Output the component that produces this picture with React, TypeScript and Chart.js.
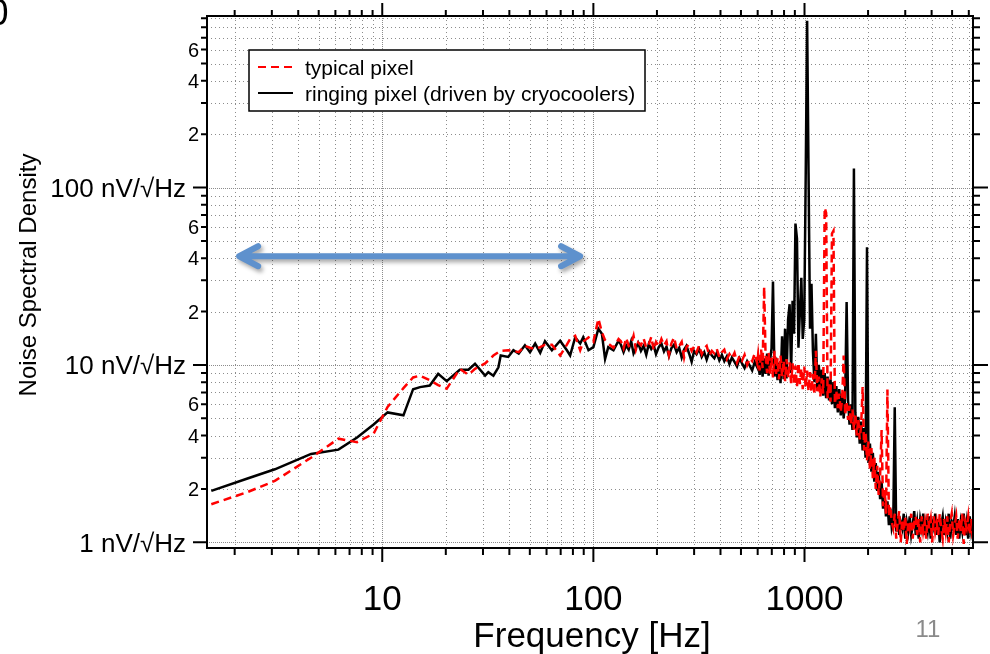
import { useEffect, useRef } from "react";
import { Chart, registerables } from "chart.js";

Chart.register(...registerables);

// ---------- DATA ----------
// Frequency grid [Hz], split in segments
const freqLowHz = [
  1.55, 2.3, 3.1, 4.6, 6.2, 7.6, 9.1, 10.6, 12.6, 14.0, 15.1, 16.8, 18.4, 20.2, 23.3,
  25.6, 27.5, 30.7, 31.8, 33.6, 35.5, 36.4, 39.5, 41.8, 44.3, 47.4, 50.1, 53, 56, 59,
  63.6, 69.6, 74.9, 77.6, 82, 86.6, 89.5, 94.8, 100, 105.6, 109.7, 113.6, 117.6, 124.5, 131.6,
];
const freqMidHz = [
  135, 139, 143, 147, 151, 155, 159, 163, 168, 173, 178, 183, 188, 193, 198, 204, 210, 216,
  222, 228, 234, 241, 248, 255, 262, 269, 276, 284, 292, 300, 308, 317, 326, 335, 344, 354,
  364, 374, 384, 395, 406, 417, 429, 441, 453, 466, 479, 492, 506, 520, 535, 550, 565, 581, 597,
];
const freqHighHz = [
  603, 613, 623, 633, 644, 654, 665, 676, 687, 698,
  709, 721, 733, 745, 757, 770, 783, 796, 809, 822,
  836, 850, 864, 878, 892, 906, 921, 936, 951, 966,
  981, 997, 1013, 1029, 1045, 1062, 1079, 1096, 1114, 1132,
  1150, 1169, 1188, 1207, 1226, 1246, 1266, 1286, 1307, 1328,
  1349, 1371, 1393, 1415, 1438, 1461, 1485, 1509, 1533, 1558,
  1583, 1608, 1634, 1660, 1687, 1714, 1741, 1769, 1797, 1826,
  1855, 1885, 1915, 1946, 1977, 2009, 2041, 2074, 2107, 2141,
  2175, 2210, 2245, 2281, 2318, 2355, 2393, 2431, 2470, 2510,
  2550, 2591,
];
const freqFloorHz = [
  2632, 2675, 2719, 2764, 2810, 2856, 2903, 2951, 3000, 3049,
  3099, 3150, 3202, 3255, 3308, 3363, 3418, 3475, 3532, 3590,
  3649, 3709, 3770, 3832, 3896, 3960, 4025, 4092, 4159, 4228,
  4298, 4369, 4441, 4514, 4588, 4664, 4741, 4819, 4899, 4980,
  5062, 5145, 5230, 5316, 5404, 5493, 5584, 5676, 5770, 5865,
  5962, 6060, 6160, 6260,
];

// typical pixel [nV/√Hz]
const typicalLow = [
  1.64, 1.92, 2.22, 3.0, 3.84, 3.67, 4.1, 5.8, 7.4, 8.5, 8.7, 8.2, 7.7, 7.35, 9.5,
  8.8, 9.5, 10.2, 10.6, 11.3, 11.8, 12.0, 12.1, 12.0, 11.8, 12.8, 12.5, 12.3, 12.6, 13.0,
  13.0, 11.3, 13.0, 14.0, 14.6, 12.1, 13.5, 14.3, 13.5, 18.2, 15.3, 13.8, 13.2, 12.5, 14.0,
];
const typicalMid = [
  13.6, 12.4, 14.2, 12.8, 13.1, 14.6, 12.2, 13.4, 12.9, 14.1,
  12.5, 13.0, 14.4, 12.1, 13.5, 12.7, 14.0, 12.9, 13.6, 11.4,
  13.2, 14.3, 12.3, 12.8, 13.5, 11.0, 12.6, 13.1, 12.0, 12.7,
  11.8, 12.9, 11.5, 12.4, 12.8, 11.3, 12.0, 11.6, 12.3, 11.1,
  11.8, 12.2, 10.8, 11.5, 10.9, 11.7, 10.3, 11.2, 10.6, 11.4,
  10.0, 10.9, 10.5, 11.6, 10.2,
];
const typicalHigh = [
  11.4, 9.3, 12.2, 9.6, 27.6, 11.2, 9.0, 11.8, 8.8, 11.0,
  8.5, 12.0, 8.9, 10.9, 8.3, 11.3, 8.6, 10.6, 8.1, 10.8,
  8.4, 10.4, 7.9, 10.2, 7.7, 9.9, 7.5, 10.3, 7.8, 9.6,
  7.3, 9.8, 7.4, 9.3, 7.1, 9.1, 7.0, 8.9, 6.8, 12.0,
  7.1, 8.6, 6.6, 8.4, 6.9, 77, 72, 6.5, 8.0, 6.2,
  55, 57, 6.0, 7.2, 5.7, 6.9, 5.4, 6.6, 11.3, 5.2,
  6.2, 4.9, 5.9, 4.6, 5.6, 4.3, 5.3, 4.0, 5.0, 3.8,
  4.6, 7.5, 3.3, 4.2, 2.9, 3.7, 2.6, 3.4, 2.3, 3.0,
  2.0, 2.7, 1.85, 2.4, 4.3, 1.6, 2.0, 1.45, 7.26, 1.4,
  1.6, 1.3,
];
const typicalFloor = [
  1.2, 1.45, 1.05, 1.3, 1.5, 1.0, 1.35, 1.15, 1.4, 0.98,
  1.3, 1.2, 1.45, 1.05, 1.3, 1.4, 1.1, 1.35, 1.0, 1.4,
  1.15, 1.3, 1.05, 1.45, 1.2, 1.35, 1.0, 1.4, 1.15, 1.3,
  1.1, 1.45, 1.2, 1.05, 1.35, 1.15, 1.4, 1.0, 1.3, 1.45,
  1.1, 1.25, 1.4, 1.05, 1.35, 1.15, 1.45, 0.98, 1.3, 1.2,
  1.4, 1.1, 1.35, 1.05,
];

// ringing pixel (driven by cryocoolers) [nV/√Hz]
const ringingLow = [
  1.95, 2.29, 2.58, 3.15, 3.33, 3.9, 4.62, 5.4, 5.2, 7.3, 7.5, 7.65, 8.9, 8.1, 9.4,
  9.4, 10.15, 8.7, 9.1, 8.7, 9.7, 11.3, 11.1, 12.1, 11.6, 12.9, 11.8, 13.2, 11.7, 13.6,
  12.1, 13.7, 12.1, 11.3, 14.3, 13.2, 14.3, 12.1, 12.6, 16.0, 15.0, 10.8, 12.6, 12.1, 13.7,
];
const ringingMid = [
  13.0, 11.8, 12.9, 12.2, 13.6, 11.6, 12.4, 13.3, 12.0, 12.8,
  11.4, 13.1, 12.3, 12.9, 11.5, 12.6, 13.2, 11.9, 12.7, 11.2,
  12.4, 13.0, 11.8, 12.5, 11.0, 12.2, 12.8, 11.6, 10.4, 12.0,
  11.5, 12.3, 11.1, 11.8, 10.7, 11.9, 11.3, 10.9, 11.7, 10.6,
  11.4, 10.5, 11.2, 10.1, 11.0, 10.4, 9.8, 10.9, 10.2, 9.6,
  10.5, 9.9, 9.3, 10.4, 9.7,
];
const ringingHigh = [
  10.8, 8.8, 11.4, 8.6, 10.9, 8.9, 11.6, 8.7, 10.6, 12.4,
  29.5, 8.6, 11.0, 8.2, 10.3, 7.9, 14.5, 8.3, 16.0, 8.4,
  18.0, 22.0, 9.0, 23.0, 15.0, 62.7, 51.5, 12.5, 20.0, 31.0,
  14.0, 18.0, 114, 871, 121, 16.0, 28.7, 12.0, 8.0, 15.0,
  7.4, 10.0, 7.0, 9.4, 6.7, 9.0, 6.5, 8.6, 6.3, 8.3,
  6.0, 8.0, 5.7, 7.6, 5.4, 7.3, 5.2, 6.9, 5.0, 6.6,
  22.6, 6.3, 4.6, 6.0, 4.3, 128, 5.4, 3.9, 5.1, 3.6,
  4.8, 3.3, 4.4, 3.0, 46, 2.8, 3.6, 2.5, 3.2, 2.2,
  2.8, 1.95, 2.5, 1.75, 2.2, 1.55, 1.95, 1.4, 1.7, 1.25,
  1.55, 1.2,
];
const ringingFloor = [
  1.3, 5.78, 1.15, 1.4, 1.1, 1.3, 1.2, 1.45, 1.05, 1.3,
  1.15, 1.4, 1.1, 1.25, 1.5, 1.1, 1.3, 1.05, 1.35, 1.2,
  1.45, 1.1, 1.3, 1.15, 1.4, 1.05, 1.3, 1.2, 1.45, 1.1,
  1.35, 1.0, 1.25, 1.4, 1.1, 1.3, 1.15, 1.45, 1.05, 1.3,
  1.2, 1.4, 1.1, 1.35, 1.05, 1.3, 1.15, 1.45, 1.1, 1.3,
  1.05, 1.4, 1.15, 1.3,
];

// Ticks and labels
const decadeValues = [1, 10, 100, 1000];
const minorMultipliers = [2, 3, 4, 5, 6, 7, 8, 9];
const xMajorTicks = [10, 100, 1000];
const xMajorLabels = ["10", "100", "1000"];
const yMajorTicks = [1, 10, 100];
const yMajorLabels = ["1 nV/√Hz", "10 nV/√Hz", "100 nV/√Hz"];
const yMinorLabelTicks = [2, 4, 6, 20, 40, 60, 200, 400, 600];
const yMinorLabels = ["2", "4", "6", "2", "4", "6", "2", "4", "6"];

const seriesLabels = ["typical pixel", "ringing pixel (driven by cryocoolers)"];
const xTitle = "Frequency [Hz]";
const yTitle = "Noise Spectral Density";
const pageNumber = "11";

// Double arrow annotation (data coordinates)
const arrowSpanHz = [2.1, 86.5];
const arrowLevelNv = 41;

// Axis ranges
const xRange = [1.479, 6281];
const yRange = [0.929, 927];

// ---------- helpers ----------
const freqAll = [...freqLowHz, ...freqMidHz, ...freqHighHz, ...freqFloorHz];
const typicalAll = [...typicalLow, ...typicalMid, ...typicalHigh, ...typicalFloor];
const ringingAll = [...ringingLow, ...ringingMid, ...ringingHigh, ...ringingFloor];
const toPoints = (vals: number[]) => freqAll.map((f, i) => ({ x: f, y: vals[i] }));

function tickSet(min: number, max: number) {
  const out: { v: number; major: boolean }[] = [];
  for (const d of decadeValues) {
    if (d >= min && d <= max) out.push({ v: d, major: true });
    for (const m of minorMultipliers) {
      const v = m * d;
      if (v >= min && v <= max) out.push({ v, major: false });
    }
  }
  return out;
}

const FONT = '"Liberation Sans", Arial, Helvetica, sans-serif';

const axesPlugin = {
  id: "igorAxes",
  beforeDatasetsDraw(chart: any) {
    const { ctx, chartArea: a } = chart;
    const xs = chart.scales.x;
    const ys = chart.scales.y;
    ctx.save();
    ctx.strokeStyle = "rgb(140,140,140)";
    ctx.lineWidth = 1;
    for (const t of tickSet(xs.min, xs.max)) {
      const px = Math.round(xs.getPixelForValue(t.v)) + 0.5;
      ctx.setLineDash(t.major ? [1, 1] : [1, 3]);
      ctx.beginPath();
      ctx.moveTo(px, a.top);
      ctx.lineTo(px, a.bottom);
      ctx.stroke();
    }
    for (const t of tickSet(ys.min, ys.max)) {
      const py = Math.round(ys.getPixelForValue(t.v)) + 0.5;
      ctx.setLineDash(t.major ? [1, 1] : [1, 3]);
      ctx.beginPath();
      ctx.moveTo(a.left, py);
      ctx.lineTo(a.right, py);
      ctx.stroke();
    }
    ctx.restore();
  },
  afterDatasetsDraw(chart: any) {
    const { ctx, chartArea: a } = chart;
    const xs = chart.scales.x;
    const ys = chart.scales.y;
    ctx.save();
    ctx.setLineDash([]);

    // frame
    ctx.strokeStyle = "#000";
    ctx.lineWidth = 2;
    ctx.strokeRect(a.left, a.top, a.right - a.left, a.bottom - a.top);

    // ticks
    ctx.beginPath();
    for (const t of tickSet(xs.min, xs.max)) {
      const px = xs.getPixelForValue(t.v);
      ctx.moveTo(px, a.bottom);
      ctx.lineTo(px, a.bottom + (t.major ? 14 : 7));
      ctx.moveTo(px, a.top);
      ctx.lineTo(px, a.top - (t.major ? 13 : 6));
    }
    for (const t of tickSet(ys.min, ys.max)) {
      const py = ys.getPixelForValue(t.v);
      ctx.moveTo(a.left, py);
      ctx.lineTo(a.left - (t.major ? 14 : 6), py);
      ctx.moveTo(a.right, py);
      ctx.lineTo(a.right + (t.major ? 15 : 7), py);
    }
    ctx.stroke();

    // tick labels
    ctx.fillStyle = "#000";
    ctx.textBaseline = "alphabetic";
    ctx.font = `35px ${FONT}`;
    ctx.textAlign = "center";
    xMajorTicks.forEach((v, i) => {
      ctx.fillText(xMajorLabels[i], xs.getPixelForValue(v), a.bottom + 62);
    });
    ctx.textAlign = "right";
    ctx.font = `26px ${FONT}`;
    yMajorTicks.forEach((v, i) => {
      ctx.fillText(yMajorLabels[i], a.left - 21, ys.getPixelForValue(v) + 9.3);
    });
    ctx.font = `20px ${FONT}`;
    yMinorLabelTicks.forEach((v, i) => {
      ctx.fillText(yMinorLabels[i], a.left - 8, ys.getPixelForValue(v) + 7.2);
    });

    // axis titles
    ctx.textAlign = "center";
    ctx.font = `35px ${FONT}`;
    ctx.fillText(xTitle, (a.left + a.right) / 2 + 2, a.bottom + 99);
    ctx.save();
    ctx.translate(36, 275);
    ctx.rotate(-Math.PI / 2);
    ctx.font = `24px ${FONT}`;
    ctx.fillText(yTitle, 0, 0);
    ctx.restore();

    // page number and clipped corner glyph
    ctx.fillStyle = "#8a8a8a";
    ctx.font = `24px ${FONT}`;
    ctx.fillText(pageNumber, 928, 637);
    ctx.fillStyle = "#000";
    ctx.textAlign = "right";
    ctx.font = `36px ${FONT}`;
    ctx.fillText("0", 8.5, 25);

    // legend
    const lx = 249, ly = 50, lw = 396, lh = 61;
    ctx.fillStyle = "#fff";
    ctx.fillRect(lx, ly, lw, lh);
    ctx.strokeStyle = "#000";
    ctx.lineWidth = 1.5;
    ctx.strokeRect(lx, ly, lw, lh);
    ctx.lineWidth = 2;
    ctx.strokeStyle = "#ff0000";
    ctx.setLineDash([8, 5]);
    ctx.beginPath();
    ctx.moveTo(258, 67);
    ctx.lineTo(293, 67);
    ctx.stroke();
    ctx.setLineDash([]);
    ctx.strokeStyle = "#000";
    ctx.beginPath();
    ctx.moveTo(258, 93);
    ctx.lineTo(293, 93);
    ctx.stroke();
    ctx.fillStyle = "#000";
    ctx.textAlign = "left";
    ctx.font = `21px ${FONT}`;
    ctx.fillText(seriesLabels[0], 305, 74.5);
    ctx.fillText(seriesLabels[1], 305, 100.5);

    // double arrow
    const x1 = xs.getPixelForValue(arrowSpanHz[0]);
    const x2 = xs.getPixelForValue(arrowSpanHz[1]);
    const yA = ys.getPixelForValue(arrowLevelNv);
    ctx.save();
    ctx.shadowColor = "rgba(0,0,0,0.35)";
    ctx.shadowBlur = 4;
    ctx.shadowOffsetX = 2;
    ctx.shadowOffsetY = 3;
    ctx.strokeStyle = "#5e91cd";
    ctx.lineWidth = 6;
    ctx.lineCap = "round";
    ctx.lineJoin = "round";
    ctx.beginPath();
    ctx.moveTo(x1 + 19, yA - 10);
    ctx.lineTo(x1, yA);
    ctx.lineTo(x1 + 19, yA + 10);
    ctx.moveTo(x1, yA);
    ctx.lineTo(x2, yA);
    ctx.moveTo(x2 - 19, yA - 10);
    ctx.lineTo(x2, yA);
    ctx.lineTo(x2 - 19, yA + 10);
    ctx.stroke();
    ctx.restore();

    ctx.restore();
  },
};

export default function App() {
  const canvasRef = useRef<HTMLCanvasElement | null>(null);

  useEffect(() => {
    document.body.style.margin = "0";
    const canvas = canvasRef.current;
    if (!canvas) return;
    const chart = new Chart(canvas, {
      type: "line",
      data: {
        datasets: [
          {
            label: seriesLabels[0],
            data: toPoints(typicalAll),
            borderColor: "#ff0000",
            borderWidth: 2.5,
            borderDash: [8, 5],
            pointRadius: 0,
            tension: 0,
            fill: false,
          },
          {
            label: seriesLabels[1],
            data: toPoints(ringingAll),
            borderColor: "#000000",
            borderWidth: 2.5,
            pointRadius: 0,
            tension: 0,
            fill: false,
          },
        ],
      },
      options: {
        responsive: false,
        animation: false,
        devicePixelRatio: 1,
        events: [],
        layout: { padding: { left: 207, right: 17, top: 16, bottom: 106 } },
        scales: {
          x: { type: "logarithmic", min: xRange[0], max: xRange[1], display: false },
          y: { type: "logarithmic", min: yRange[0], max: yRange[1], display: false },
        },
        plugins: { legend: { display: false }, tooltip: { enabled: false } },
      },
      plugins: [axesPlugin],
    } as any);
    return () => chart.destroy();
  }, []);

  return (
    <canvas
      ref={canvasRef}
      width={990}
      height={654}
      style={{ display: "block", width: 990, height: 654 }}
    />
  );
}
